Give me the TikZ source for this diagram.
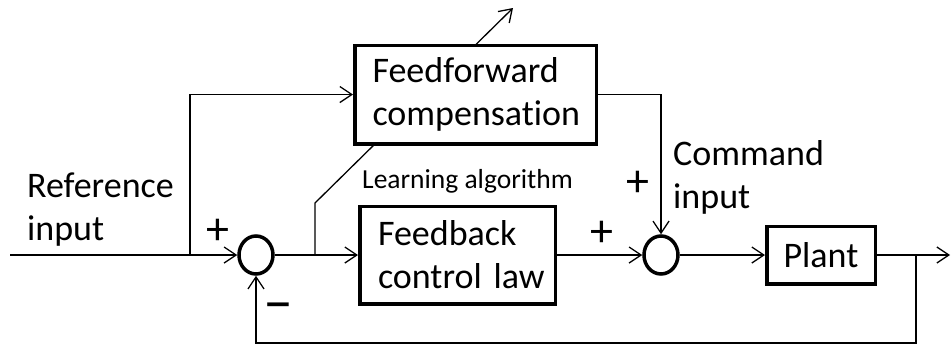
\documentclass[tikz,border=0pt]{standalone}
\usepackage{fontspec}
\setmainfont{Carlito}[Ligatures=NoCommon]
\usetikzlibrary{arrows.meta,shapes.geometric}
\begin{document}
\begin{tikzpicture}[x=1pt,y=-1pt,
  blk/.style={draw, line width=3.5pt, fill=white, inner sep=0pt},
  sumnode/.style={draw, ellipse, line width=3.5pt, fill=white, minimum width=34pt, minimum height=38pt, inner sep=0pt},
  sig/.style={line width=1.3pt, -{Straight Barb[length=12pt,width=16pt]}},
  big/.style={font=\fontsize{36}{43}\selectfont},
  small/.style={font=\fontsize{27.5}{32}\selectfont},
  sign/.style={font=\fontsize{46}{46}\selectfont, inner sep=0pt}]
\useasboundingbox (0,0) rectangle (951,346);

% key points of the wiring
\coordinate (in)  at (10,255);
\coordinate (br)  at (190,255);
\coordinate (lj)  at (315,255);
\coordinate (lb)  at (315,203);
\coordinate (lt)  at (513,8);
\coordinate (out) at (950,255);
\coordinate (tap) at (916,255);
\coordinate (bot) at (916,343);

% learning path, passing behind the feedforward block
\draw[sig] (lj) -- (lb) -- (lt);

% blocks and summing junctions
\node[blk, big, minimum width=241.5pt, minimum height=98.5pt, text width=206pt, align=left]
  (ff) at (475.5,94.5) {Feedforward\\compensation};
\node[blk, big, minimum width=195.5pt, minimum height=97.5pt, text width=159pt, align=left]
  (fb) at (457.5,255) {Feedback\\control~law};
\node[blk, big, minimum width=108.5pt, minimum height=57.5pt] (plant) at (821,255) {Plant};
\node[sumnode] (s1) at (256,255) {};
\node[sumnode] (s2) at (661,255) {};

% signal lines
\draw[sig] (in) -- (s1.west);
\draw[sig] (br) |- (ff.west);
\draw[sig] (s1.east) -- (fb.west);
\draw[sig] (ff.east) -| (s2.north);
\draw[sig] (fb.east) -- (s2.west);
\draw[sig] (s2.east) -- (plant.west);
\draw[sig] (plant.east) -- (out);
\draw[sig] (tap) -- (bot) -| (s1.south);

% labels
\node[big, anchor=base west, align=left, inner sep=0pt] (lref) at (27,240) {Reference\\input};
\node[big, anchor=base west, align=left, inner sep=0pt] (lcmd) at (673,208) {Command\\input};
\node[small, anchor=base west, inner sep=0pt] (llrn) at (362,188) {Learning algorithm};
\node[sign] (p1) at (218,232) {+};
\node[sign, font=\fontsize{60}{60}\selectfont] (m1) at (278,312) {–};
\node[sign] (p2) at (602,234) {+};
\node[sign] (p3) at (638,184) {+};
\end{tikzpicture}
\end{document}
